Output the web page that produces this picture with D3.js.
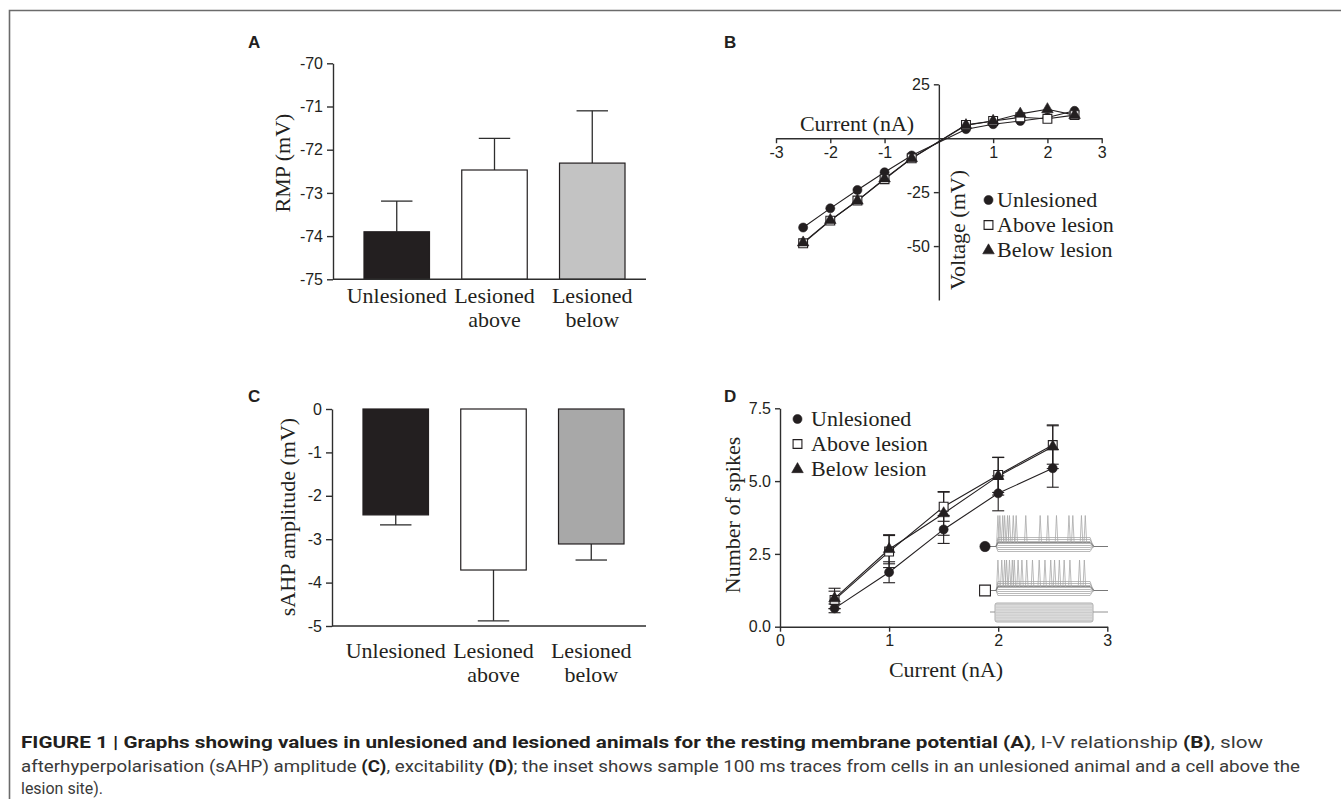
<!DOCTYPE html>
<html><head><meta charset="utf-8">
<script src="https://cdn.jsdelivr.net/npm/d3@7"></script>
<style>body{margin:0;background:#fff} svg{display:block}</style>
</head><body>
<svg id="fig" width="1341" height="799"></svg>
<script>
// ---------- DATA ----------
const barCategories = ["Unlesioned", "Lesioned above", "Lesioned below"];
const rmpMeans = [-73.9, -72.47, -72.31];
const rmpSEM = [0.71, 0.73, 1.21];
const rmpTicks = [-70, -71, -72, -73, -74, -75];
const sahpMeans = [-2.44, -3.71, -3.11];
const sahpSEM = [0.23, 1.17, 0.37];
const sahpTicks = [0, -1, -2, -3, -4, -5];

const seriesNames = ["Unlesioned", "Above lesion", "Below lesion"];
const ivCurrent = [-2.5, -2, -1.5, -1, -0.5, 0.5, 1, 1.5, 2, 2.5];
const ivUnlesioned = [-41.4, -32.5, -24, -15.8, -8, 4.2, 6.5, 8, 9.6, 12.7];
const ivAbove = [-48.7, -38.2, -28.9, -19, -9.3, 6.2, 8, 9.7, 9, 10.7];
const ivBelow = [-48.4, -38, -29, -18.7, -9.3, 6, 8, 11.3, 13.4, 10.7];
const ivXTicks = [-3, -2, -1, 1, 2, 3];
const ivYTicks = [25, -25, -50];

const fiCurrent = [0.5, 1, 1.5, 2, 2.5];
const fiUnlesioned = [0.63, 1.87, 3.34, 4.58, 5.44];
const fiUnlesionedSEM = [0.15, 0.36, 0.48, 0.6, 0.65];
const fiAbove = [0.92, 2.58, 4.12, 5.21, 6.24];
const fiAboveSEM = [0.3, 0.55, 0.5, 0.6, 0.66];
const fiBelow = [0.97, 2.66, 3.89, 5.17, 6.18];
const fiBelowSEM = [0.35, 0.5, 0.75, 0.65, 0.75];
const fiXTicks = [0, 1, 2, 3];
const fiYTicks = [0, 2.5, 5, 7.5];

// inset sample traces: spike times (ms) within the 100 ms step
const insetSpikesUnlesioned = [2, 4, 7, 9, 12, 14, 18, 21, 31, 46, 54, 63, 76, 80, 89, 93];
const insetSpikesAbove = [2, 6, 9, 11, 14, 17, 19, 23, 27, 32, 38, 45, 51, 57, 61, 66, 71, 77, 87, 92];

// ---------- STYLE ----------
const INK = "#231f20";
const AXIS = "#2e2e2e";
const SANS = "'Liberation Sans', Arial, sans-serif";
const SERIF = "'Liberation Serif', 'Times New Roman', serif";
const barFillA = ["#231f20", "#ffffff", "#c3c3c3"];
const barFillC = ["#231f20", "#ffffff", "#a8a8a8"];

const svg = d3.select("#fig");

// frame
svg.append("path").attr("d", "M9.5,799 V10.5 H1341")
  .attr("fill", "none").attr("stroke", "#6b6b6b").attr("stroke-width", 1.6);

function styleAxis(g) {
  g.select(".domain").attr("stroke", AXIS).attr("stroke-width", 1.4);
  g.selectAll(".tick line").attr("stroke", AXIS).attr("stroke-width", 1.4);
  g.selectAll(".tick text").attr("fill", INK).style("font-family", SANS).style("font-size", "16px");
}
function panelLabel(t, x, y) {
  svg.append("text").attr("x", x).attr("y", y).text(t)
    .style("font-family", SANS).style("font-weight", "bold").style("font-size", "17px").attr("fill", INK);
}
function serifText(t, x, y, anchor, rot) {
  const el = svg.append("text").text(t).attr("fill", INK)
    .style("font-family", SERIF).style("font-size", "22px")
    .attr("text-anchor", anchor || "start");
  if (rot) el.attr("transform", `translate(${x},${y}) rotate(-90)`);
  else el.attr("x", x).attr("y", y);
  return el;
}

// ---------- BAR PANELS (A, C) ----------
function barPanel(opts) {
  const x = d3.scaleBand(barCategories, [opts.x0, opts.x0 + 323]).paddingInner(0.33).paddingOuter(0.317);
  const y = d3.scaleLinear(opts.domain, opts.range);
  const g = svg.append("g");
  barCategories.forEach((c, i) => {
    const v = opts.means[i];
    const yTop = Math.min(y(v), y(opts.base));
    const h = Math.abs(y(v) - y(opts.base));
    const cx = x(c) + x.bandwidth() / 2;
    const ev = opts.up ? v + opts.sem[i] : v - opts.sem[i];
    g.append("line").attr("x1", cx).attr("x2", cx).attr("y1", y(v)).attr("y2", y(ev))
      .attr("stroke", AXIS).attr("stroke-width", 1.3);
    g.append("line").attr("x1", cx - x.bandwidth() * 0.24).attr("x2", cx + x.bandwidth() * 0.24)
      .attr("y1", y(ev)).attr("y2", y(ev)).attr("stroke", AXIS).attr("stroke-width", 1.3);
    g.append("rect").attr("x", x(c)).attr("y", yTop).attr("width", x.bandwidth()).attr("height", h)
      .attr("fill", opts.fills[i]).attr("stroke", INK).attr("stroke-width", 1.2);
    const words = c.split(" ");
    const t = g.append("text").attr("text-anchor", "middle").attr("fill", INK)
      .style("font-family", SERIF).style("font-size", "22px");
    words.forEach((w, k) => t.append("tspan").attr("x", cx).attr("y", opts.labelY + k * 24).text(w));
  });
  const ay = g.append("g").attr("transform", `translate(${opts.x0},0)`)
    .call(d3.axisLeft(y).tickValues(opts.ticks).tickFormat(d => String(d)).tickSize(6).tickSizeOuter(0).tickPadding(4));
  styleAxis(ay);
  g.append("line").attr("x1", opts.x0).attr("x2", opts.xEnd).attr("y1", y(opts.domain[0])).attr("y2", y(opts.domain[0]))
    .attr("stroke", AXIS).attr("stroke-width", 1.4);
  serifText(opts.yLabel, opts.yLabelX, opts.yLabelY, "middle", true);
}

barPanel({
  x0: 333, xEnd: 646, domain: [-75, -70], range: [279.3, 63.3], base: -75,
  means: rmpMeans, sem: rmpSEM, up: true, fills: barFillA, ticks: rmpTicks,
  labelY: 303, yLabel: "RMP (mV)", yLabelX: 290, yLabelY: 163
});
barPanel({
  x0: 332, xEnd: 646, domain: [-5, 0], range: [626, 409], base: 0,
  means: sahpMeans, sem: sahpSEM, up: false, fills: barFillC, ticks: sahpTicks,
  labelY: 658, yLabel: "sAHP amplitude (mV)", yLabelX: 295, yLabelY: 517
});
panelLabel("A", 248, 48);
panelLabel("C", 248, 402);

// ---------- MARKERS ----------
const symTypes = [d3.symbolCircle, d3.symbolSquare, d3.symbolTriangle];
const symSizes = [64, 78, 58];
const symFills = [INK, "#ffffff", INK];
function marker(g, i, cx, cy, scale) {
  g.append("path").attr("d", d3.symbol(symTypes[i], symSizes[i] * (scale || 1))())
    .attr("transform", `translate(${cx},${cy})`)
    .attr("fill", symFills[i]).attr("stroke", INK).attr("stroke-width", i === 1 ? 1.1 : 0.6);
}

// ---------- PANEL B (I-V) ----------
{
  const x = d3.scaleLinear([-3, 3], [776, 1101.7]);
  const y = d3.scaleLinear([-75, 25], [300, 84.3]);
  const g = svg.append("g");
  const ax = g.append("g").attr("transform", `translate(0,${y(0)})`)
    .call(d3.axisBottom(x).tickValues(ivXTicks).tickFormat(d => String(d)).tickSize(5).tickSizeOuter(0).tickPadding(3));
  styleAxis(ax);
  const ay = g.append("g").attr("transform", `translate(${x(0)},0)`)
    .call(d3.axisLeft(y).tickValues(ivYTicks).tickFormat(d => String(d)).tickSize(5).tickSizeOuter(0).tickPadding(4));
  styleAxis(ay);
  const series = [ivUnlesioned, ivAbove, ivBelow];
  const line = d3.line().x(d => x(d[0])).y(d => y(d[1]));
  series.forEach(s => {
    g.append("path").attr("d", line(ivCurrent.map((c, k) => [c, s[k]])))
      .attr("fill", "none").attr("stroke", INK).attr("stroke-width", 1.1);
  });
  series.forEach((s, i) => ivCurrent.forEach((c, k) => marker(g, i, x(c), y(s[k]))));
  serifText("Current (nA)", 857, 131, "middle");
  serifText("Voltage (mV)", 965, 230, "middle", true);
  const legY = [200, 225, 250.5];
  seriesNames.forEach((n, i) => {
    marker(g, i, 988.5, legY[i]);
    serifText(n, 997, legY[i] + 6.7, "start");
  });
}
panelLabel("B", 724, 48);

// ---------- PANEL D (F-I) ----------
{
  const x = d3.scaleLinear([0, 3], [780, 1107.3]);
  const y = d3.scaleLinear([0, 7.5], [626.7, 408.3]);
  const g = svg.append("g");
  const ax = g.append("g").attr("transform", `translate(0,${y(0)})`)
    .call(d3.axisBottom(x).tickValues(fiXTicks).tickFormat(d => String(d)).tickSize(5).tickSizeOuter(0).tickPadding(3));
  styleAxis(ax);
  const ay = g.append("g").attr("transform", `translate(${x(0)},0)`)
    .call(d3.axisLeft(y).tickValues(fiYTicks).tickFormat(d3.format(".1f")).tickSize(5).tickSizeOuter(0).tickPadding(4));
  styleAxis(ay);

  // inset traces
  const ins = g.append("g");
  const t = d3.scaleLinear([0, 100], [996, 1092]);
  const stepLevels = [-9, -7, -5, -3, -1, 1, 3, 5];
  const traceInfo = [
    { base: 546.5, top: 515.5, spikes: insetSpikesUnlesioned },
    { base: 590.5, top: 560, spikes: insetSpikesAbove }
  ];
  traceInfo.forEach(tr => {
    stepLevels.forEach(o => {
      ins.append("path")
        .attr("d", `M990,${tr.base} H${t(0)} L${t(2)},${tr.base + o} H${t(98)} L${t(100)},${tr.base + o * 0.4} L${t(102)},${tr.base} H1108`)
        .attr("fill", "none").attr("stroke", "#9c9c9c").attr("stroke-width", 0.7);
    });
    ins.append("path")
      .attr("d", `M990,${tr.base} H${t(0)} L${t(2)},${tr.base - 4} H${t(98)} L${t(102)},${tr.base} H1108`)
      .attr("fill", "none").attr("stroke", "#6f6f6f").attr("stroke-width", 0.8);
    tr.spikes.forEach(s => {
      ins.append("path")
        .attr("d", `M${t(s) - 1.2},${tr.base - 5} L${t(s)},${tr.top} L${t(s) + 1.4},${tr.base - 3}`)
        .attr("fill", "none").attr("stroke", "#a8a8a8").attr("stroke-width", 0.8);
    });
  });
  ins.append("line").attr("x1", 990).attr("x2", 1108).attr("y1", 612).attr("y2", 612)
    .attr("stroke", "#777").attr("stroke-width", 0.8);
  ins.append("rect").attr("x", t(0) - 1).attr("y", 603).attr("width", t(100) - t(0) + 2).attr("height", 19)
    .attr("fill", "#e4e4e4").attr("stroke", "#9a9a9a").attr("stroke-width", 0.8).attr("rx", 2);
  d3.range(604.5, 621, 1.6).forEach(yy => {
    ins.append("line").attr("x1", t(0)).attr("x2", t(100)).attr("y1", yy).attr("y2", yy)
      .attr("stroke", "#b5b5b5").attr("stroke-width", 0.5);
  });
  marker(ins, 0, 985, 546.5, 1.3);
  marker(ins, 1, 985, 590.5, 1.5);

  const series = [fiUnlesioned, fiAbove, fiBelow];
  const sems = [fiUnlesionedSEM, fiAboveSEM, fiBelowSEM];
  const line = d3.line().x(d => x(d[0])).y(d => y(d[1]));
  series.forEach((s, i) => {
    fiCurrent.forEach((c, k) => {
      const lo = y(s[k] - sems[i][k]), hi = y(s[k] + sems[i][k]);
      g.append("line").attr("x1", x(c)).attr("x2", x(c)).attr("y1", lo).attr("y2", hi)
        .attr("stroke", INK).attr("stroke-width", 1.1);
      [lo, hi].forEach(yy => g.append("line").attr("x1", x(c) - 6).attr("x2", x(c) + 6)
        .attr("y1", yy).attr("y2", yy).attr("stroke", INK).attr("stroke-width", 1.1));
    });
  });
  series.forEach(s => {
    g.append("path").attr("d", line(fiCurrent.map((c, k) => [c, s[k]])))
      .attr("fill", "none").attr("stroke", INK).attr("stroke-width", 1.1);
  });
  series.forEach((s, i) => fiCurrent.forEach((c, k) => marker(g, i, x(c), y(s[k]))));

  serifText("Number of spikes", 740, 515, "middle", true);
  serifText("Current (nA)", 946, 677, "middle");
  const legY = [419, 444, 469.3];
  seriesNames.forEach((n, i) => {
    marker(g, i, 797.5, legY[i]);
    serifText(n, 811, legY[i] + 6.5, "start");
  });
}
panelLabel("D", 724, 402);

// ---------- CAPTION ----------
const captionLines = [
  [["b", "FIGURE 1 | Graphs showing values in unlesioned and lesioned animals for the resting membrane potential (A)"],
   ["r", ", I-V relationship "], ["b", "(B)"], ["r", ", slow"]],
  [["r", "afterhyperpolarisation (sAHP) amplitude "], ["b", "(C)"], ["r", ", excitability "], ["b", "(D)"],
   ["r", "; the inset shows sample 100 ms traces from cells in an unlesioned animal and a cell above the"]],
  [["r", "lesion site)."]]
];
const captionWidths = [1242, 1279, 82];
const captionY = [748, 772, 794];
captionLines.forEach((parts, li) => {
  const t = svg.append("text").attr("x", 21).attr("y", captionY[li])
    .style("font-family", "Roboto, 'Liberation Sans', sans-serif").style("font-size", "17px")
    .attr("textLength", captionWidths[li]).attr("lengthAdjust", "spacingAndGlyphs");
  parts.forEach(([w, s]) => t.append("tspan").text(s)
    .style("font-weight", w === "b" ? "700" : "400").attr("fill", w === "b" ? "#231f20" : "#3a3a3a"));
});
</script>
</body></html>
